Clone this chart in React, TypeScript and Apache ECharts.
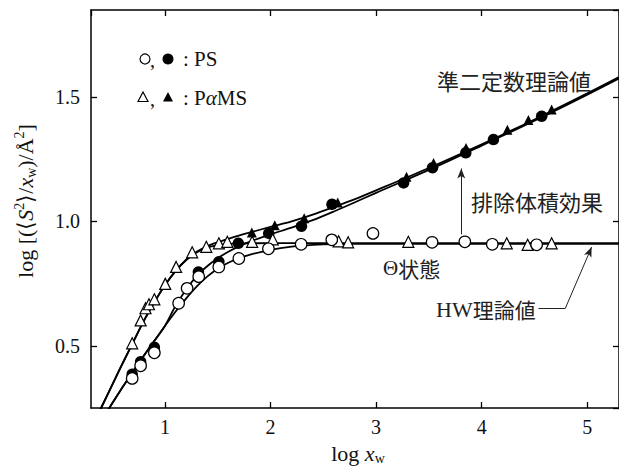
import React, { useEffect, useRef } from 'react';
import * as echarts from 'echarts';

// ---- data ----
// PS, Θ state (open circles)
const psThetaX = [0.69, 0.77, 0.90, 1.13, 1.21, 1.32, 1.51, 1.70, 1.98, 2.29, 2.58, 2.97, 3.53, 3.84, 4.10, 4.52];
const psThetaY = [0.369, 0.42, 0.472, 0.671, 0.731, 0.778, 0.817, 0.851, 0.89, 0.908, 0.926, 0.952, 0.916, 0.918, 0.908, 0.906];
// PS, good solvent (filled circles)
const psGoodX = [0.69, 0.77, 0.90, 1.317, 1.511, 1.695, 1.983, 2.293, 2.582, 3.26, 3.534, 3.849, 4.111, 4.568];
const psGoodY = [0.386, 0.436, 0.494, 0.797, 0.838, 0.912, 0.952, 0.981, 1.069, 1.155, 1.216, 1.276, 1.329, 1.423];
// PαMS, Θ state (open triangles)
const pamsThetaX = [0.69, 0.77, 0.816, 0.849, 0.90, 1.003, 1.106, 1.258, 1.392, 1.511, 1.591, 1.826, 2.021, 2.645, 2.735, 3.305, 4.237, 4.435, 4.662];
const pamsThetaY = [0.51, 0.602, 0.651, 0.667, 0.687, 0.749, 0.817, 0.876, 0.898, 0.912, 0.918, 0.918, 0.928, 0.92, 0.916, 0.918, 0.912, 0.906, 0.912];
// PαMS, good solvent (filled triangles)
const pamsGoodX = [1.823, 2.04, 2.319, 2.636, 3.288, 3.544, 3.851, 4.243, 4.442, 4.662];
const pamsGoodY = [0.956, 0.985, 1.013, 1.076, 1.18, 1.235, 1.295, 1.369, 1.408, 1.45];

// theory curves (HW = helical wormlike, Θ state; QTP = quasi-two-parameter, good solvent)
const hwPamsX = [0.33, 0.4, 0.5, 0.6, 0.7, 0.8, 0.9, 1.0, 1.1, 1.2, 1.3, 1.4, 1.5, 1.6, 1.8, 2.0, 3.0, 5.3];
const hwPamsY = [0.192, 0.254, 0.342, 0.43, 0.515, 0.6, 0.675, 0.743, 0.8, 0.845, 0.875, 0.895, 0.905, 0.91, 0.912, 0.913, 0.913, 0.913];
const qtpPamsX = [0.33, 0.4, 0.5, 0.6, 0.7, 0.8, 0.9, 1.0, 1.1, 1.2, 1.3, 1.4, 1.5, 1.6, 1.7, 1.8, 2.0, 2.2, 2.4, 2.6, 2.8, 3.0, 3.5, 4.0, 4.5, 5.0, 5.3];
const qtpPamsY = [0.192, 0.254, 0.342, 0.43, 0.515, 0.6, 0.675, 0.743, 0.8, 0.845, 0.878, 0.9, 0.916, 0.93, 0.943, 0.955, 0.978, 1.0, 1.027, 1.058, 1.09, 1.125, 1.215, 1.31, 1.41, 1.515, 1.58];
const hwPsX = [0.4, 0.5, 0.6, 0.7, 0.8, 0.9, 1.0, 1.1, 1.2, 1.3, 1.4, 1.5, 1.6, 1.7, 1.8, 2.0, 2.2, 2.4, 2.6, 3.0, 5.3];
const hwPsY = [0.2, 0.268, 0.334, 0.398, 0.46, 0.52, 0.58, 0.637, 0.69, 0.738, 0.778, 0.81, 0.834, 0.852, 0.866, 0.886, 0.899, 0.906, 0.909, 0.91, 0.91];
const qtpPsX = [0.4, 0.5, 0.6, 0.7, 0.8, 0.9, 1.0, 1.1, 1.2, 1.3, 1.4, 1.5, 1.6, 1.7, 1.8, 2.0, 2.2, 2.4, 2.6, 2.8, 3.0, 3.5, 4.0, 4.5, 5.0, 5.3];
const qtpPsY = [0.2, 0.268, 0.334, 0.398, 0.46, 0.52, 0.58, 0.66, 0.725, 0.78, 0.82, 0.852, 0.878, 0.9, 0.918, 0.948, 0.975, 1.005, 1.04, 1.077, 1.115, 1.207, 1.305, 1.405, 1.51, 1.575];

// annotation arrows (data coordinates)
const evArrow = [[3.806, 0.948], [3.806, 1.213]];
const hwLeader = [[4.537, 0.651], [4.792, 0.651], [5.041, 0.897]];

const SERIF = '"Liberation Serif", "Times New Roman", serif';
const JP = '"Noto Sans CJK JP", sans-serif';
const INK = '#111';

const zip = (xs: number[], ys: number[]) => xs.map((x, i) => [x, ys[i]]);

export default function App() {
  const ref = useRef<HTMLDivElement>(null);
  useEffect(() => {
    const chart = echarts.init(ref.current!, null, { renderer: 'svg' });
    const curve = (xs: number[], ys: number[]) => ({
      type: 'line',
      data: zip(xs, ys),
      symbol: 'none',
      smooth: 0.3,
      clip: true,
      lineStyle: { color: '#000', width: 1.8 },
      z: 2,
      silent: true,
    });
    const axisCommon = {
      splitLine: { show: false },
      axisLine: { show: true, onZero: false, lineStyle: { color: '#000', width: 1.5 } },
      axisTick: { show: true, inside: true, length: 6, lineStyle: { color: '#000', width: 1.3 } },
    };
    const option: any = {
      animation: false,
      backgroundColor: '#fff',
      grid: { left: 91, top: 10, width: 529, height: 398 },
      xAxis: [
        {
          type: 'value', min: 0.3, max: 5.3, minInterval: 1, maxInterval: 1,
          ...axisCommon,
          axisLabel: { fontSize: 20, fontFamily: SERIF, color: INK, margin: 9, showMinLabel: false, showMaxLabel: false },
        },
        {
          type: 'value', position: 'top', min: 0.3, max: 5.3, minInterval: 1, maxInterval: 1,
          ...axisCommon,
          axisLabel: { show: false },
        },
      ],
      yAxis: [
        {
          type: 'value', min: 0.25, max: 1.85, minInterval: 0.5, maxInterval: 0.5,
          ...axisCommon,
          axisLabel: {
            fontSize: 20, fontFamily: SERIF, color: INK, margin: 11,
            showMinLabel: false, showMaxLabel: false,
            formatter: (v: number) => v.toFixed(1),
          },
        },
        {
          type: 'value', position: 'right', min: 0.25, max: 1.85, minInterval: 0.5, maxInterval: 0.5,
          ...axisCommon,
          axisLabel: { show: false },
        },
      ],
      series: [
        curve(hwPamsX, hwPamsY),
        curve(qtpPamsX, qtpPamsY),
        curve(hwPsX, hwPsY),
        curve(qtpPsX, qtpPsY),
        {
          type: 'scatter', data: zip(pamsGoodX, pamsGoodY), symbol: 'triangle', symbolSize: 10,
          itemStyle: { color: '#000', opacity: 1 }, z: 3, silent: true,
        },
        {
          type: 'scatter', data: zip(psGoodX, psGoodY), symbol: 'circle', symbolSize: 11.5,
          itemStyle: { color: '#000', opacity: 1 }, z: 4, silent: true,
        },
        {
          type: 'scatter', data: zip(pamsThetaX, pamsThetaY), symbol: 'triangle', symbolSize: 11,
          itemStyle: { color: '#fff', borderColor: '#000', borderWidth: 1.2, opacity: 1 }, z: 5, silent: true,
        },
        {
          type: 'scatter', data: zip(psThetaX, psThetaY), symbol: 'circle', symbolSize: 11.5,
          itemStyle: { color: '#fff', borderColor: '#000', borderWidth: 1.2, opacity: 1 }, z: 6, silent: true,
        },
        {
          type: 'scatter', data: [], silent: true, z: 7,
          markLine: {
            silent: true,
            symbol: ['none', 'arrow'],
            symbolSize: [6, 10],
            label: { show: false },
            emphasis: { disabled: true },
            lineStyle: { color: '#222', width: 1, type: 'solid' },
            data: [
              [{ coord: evArrow[0] }, { coord: evArrow[1] }],
              [{ coord: hwLeader[0], symbol: 'none' }, { coord: hwLeader[1], symbol: 'none' }],
              [{ coord: hwLeader[1] }, { coord: hwLeader[2] }],
            ],
          },
        },
      ],
      graphic: [
        // y axis title
        {
          type: 'text', x: 25, y: 201, rotation: Math.PI / 2,
          style: {
            text: '{n|log [(⟨}{i|S}{sup|2}{n|⟩/}{i|x}{sub|w}{n|)/Å}{sup|2}{n|]}',
            align: 'center', verticalAlign: 'middle',
            rich: {
              n: { fontSize: 22, fontFamily: SERIF, fill: INK, lineHeight: 26 },
              i: { fontSize: 22, fontFamily: SERIF, fontStyle: 'italic', fill: INK, lineHeight: 26 },
              sup: { fontSize: 14, fontFamily: SERIF, fill: INK, verticalAlign: 'top', lineHeight: 14 },
              sub: { fontSize: 14, fontFamily: SERIF, fill: INK, verticalAlign: 'bottom', lineHeight: 14 },
            },
          },
        },
        // x axis title
        {
          type: 'text', x: 358, y: 453,
          style: {
            text: '{n|log }{i|x}{sub|w}',
            align: 'center', verticalAlign: 'middle',
            rich: {
              n: { fontSize: 22, fontFamily: SERIF, fill: INK, lineHeight: 24 },
              i: { fontSize: 22, fontFamily: SERIF, fontStyle: 'italic', fill: INK, lineHeight: 24 },
              sub: { fontSize: 14, fontFamily: SERIF, fill: INK, verticalAlign: 'bottom', lineHeight: 14 },
            },
          },
        },
        // legend row 1
        { type: 'circle', shape: { cx: 145, cy: 59, r: 5 }, style: { fill: '#fff', stroke: '#000', lineWidth: 1.2 } },
        { type: 'text', x: 150, y: 60, style: { text: ',', fontSize: 20, fontFamily: SERIF, fill: INK, verticalAlign: 'middle' } },
        { type: 'circle', shape: { cx: 168, cy: 59, r: 5.5 }, style: { fill: '#000' } },
        { type: 'text', x: 183, y: 59, style: { text: ': PS', fontSize: 21, fontFamily: SERIF, fill: INK, verticalAlign: 'middle' } },
        // legend row 2
        { type: 'polygon', shape: { points: [[143, 92], [148, 101.5], [138, 101.5]] }, style: { fill: '#fff', stroke: '#000', lineWidth: 1.2 } },
        { type: 'text', x: 150, y: 99, style: { text: ',', fontSize: 20, fontFamily: SERIF, fill: INK, verticalAlign: 'middle' } },
        { type: 'polygon', shape: { points: [[168, 92], [173, 101.5], [163, 101.5]] }, style: { fill: '#000' } },
        {
          type: 'text', x: 183, y: 98,
          style: {
            text: '{n|: P}{i|α}{n|MS}', verticalAlign: 'middle',
            rich: {
              n: { fontSize: 21, fontFamily: SERIF, fill: INK },
              i: { fontSize: 21, fontFamily: SERIF, fontStyle: 'italic', fill: INK },
            },
          },
        },
        // annotations
        { type: 'text', x: 437, y: 80, style: { text: '準二定数理論値', fontSize: 22, fontFamily: JP, fill: '#222', verticalAlign: 'middle' } },
        { type: 'text', x: 471, y: 201, style: { text: '排除体積効果', fontSize: 22, fontFamily: JP, fill: '#222', verticalAlign: 'middle' } },
        {
          type: 'text', x: 383, y: 268,
          style: {
            text: '{s|Θ}{j|状態}', verticalAlign: 'middle',
            rich: {
              s: { fontSize: 21, fontFamily: SERIF, fill: '#222' },
              j: { fontSize: 21, fontFamily: JP, fill: '#222' },
            },
          },
        },
        {
          type: 'text', x: 436, y: 309,
          style: {
            text: '{s|HW}{j|理論値}', verticalAlign: 'middle',
            rich: {
              s: { fontSize: 22, fontFamily: SERIF, fill: '#222' },
              j: { fontSize: 21, fontFamily: JP, fill: '#222' },
            },
          },
        },
      ],
    };
    chart.setOption(option);
    return () => chart.dispose();
  }, []);
  return <div ref={ref} style={{ position: 'absolute', left: 0, top: 0, width: 619, height: 467 }} />;
}
